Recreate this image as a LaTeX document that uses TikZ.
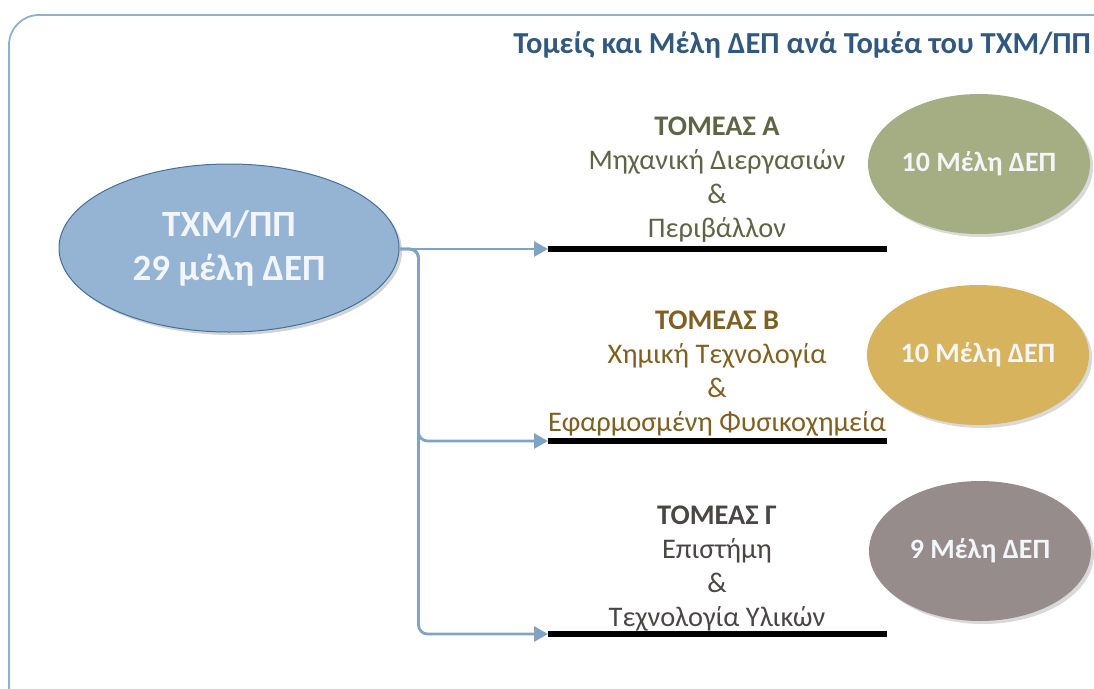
\documentclass[tikz,border=0pt]{standalone}
\usepackage{fontspec}
\setmainfont{Carlito}
\usetikzlibrary{arrows.meta, shapes.geometric, shadows}
\definecolor{frameblue}{RGB}{143,176,211}
\definecolor{titleblue}{RGB}{49,89,128}
\definecolor{mainfill}{RGB}{149,179,210}
\definecolor{mainedge}{RGB}{65,113,156}
\definecolor{connblue}{RGB}{128,163,196}
\definecolor{olivefill}{RGB}{165,173,131}
\definecolor{olivetext}{RGB}{94,101,68}
\definecolor{goldfill}{RGB}{216,179,93}
\definecolor{goldtext}{RGB}{127,96,33}
\definecolor{greyfill}{RGB}{150,140,139}
\definecolor{greytext}{RGB}{75,70,70}
\definecolor{softwhite}{RGB}{242,245,249}

\begin{document}
\begin{tikzpicture}[x=1pt, y=-1pt,
        dept/.style={ellipse, inner sep=0pt, minimum width=340pt, minimum height=168pt, fill=mainfill, draw=mainedge, line width=1pt, text=softwhite, align=center, font=\fontsize{37}{44}\selectfont\bfseries, drop shadow={opacity=0.35, shadow xshift=3pt, shadow yshift=-3pt}},
        members/.style={ellipse, inner sep=0pt, minimum width=222pt, minimum height=140pt, text=softwhite, font=\fontsize{28}{32}\selectfont\bfseries, drop shadow={opacity=0.3, shadow xshift=3pt, shadow yshift=-3pt}},
        sector/.style={align=center, inner sep=0pt, font=\fontsize{28.4}{34}\selectfont},
        conn/.style={-{Triangle[length=14pt, width=15pt]}, line width=2.8pt, connblue, rounded corners=9pt},
        bar/.style={line width=6pt, black}
      ]
        \useasboundingbox (0,0) rectangle (1094,688);
        \clip (0,0) rectangle (1094,688);

        % frame and title
        \draw[frameblue, line width=1.8pt, rounded corners=30pt] (9,15) rectangle (1130,730);
        \node[anchor=east, inner sep=0pt, text=titleblue, font=\fontsize{30.5}{36}\selectfont\bfseries] (title) at (1091,45) {Τομείς και Μέλη ΔΕΠ ανά Τομέα του ΤΧΜ/ΠΠ};

        \node[dept] (txm) at (229,248) {ΤΧΜ/ΠΠ\\29 μέλη ΔΕΠ};

        \coordinate (barA) at (548,249);
        \coordinate (barB) at (548,441);
        \coordinate (barC) at (548,634);

        \node[sector, text=olivetext] (secA) at (717,180) {\textbf{ΤΟΜΕΑΣ Α}\\Μηχανική Διεργασιών\\\&\\Περιβάλλον};
        \node[sector, text=goldtext] (secB) at (717,374) {\textbf{ΤΟΜΕΑΣ Β}\\Χημική Τεχνολογία\\\&\\Εφαρμοσμένη Φυσικοχημεία};
        \node[sector, text=greytext] (secC) at (717,569) {\textbf{ΤΟΜΕΑΣ Γ}\\Επιστήμη\\\&\\Τεχνολογία Υλικών};

        \node[members, fill=olivefill] (memA) at (979,164) {10 Μέλη ΔΕΠ};
        \node[members, fill=goldfill] (memB) at (978,355) {10 Μέλη ΔΕΠ};
        \node[members, fill=greyfill] (memC) at (980,551) {9 Μέλη ΔΕΠ};

        \draw[bar] (barA) -- ++(339,0);
        \draw[bar] (barB) -- ++(339,0);
        \draw[bar] (barC) -- ++(339,0);

        \draw[conn] (txm.east |- barA) -- (barA);
        \draw[conn] (txm.east |- barA) -- ++(19,0) |- (barB);
        \draw[conn] (txm.east |- barA) -- ++(19,0) |- (barC);
      \end{tikzpicture}
\end{document}
